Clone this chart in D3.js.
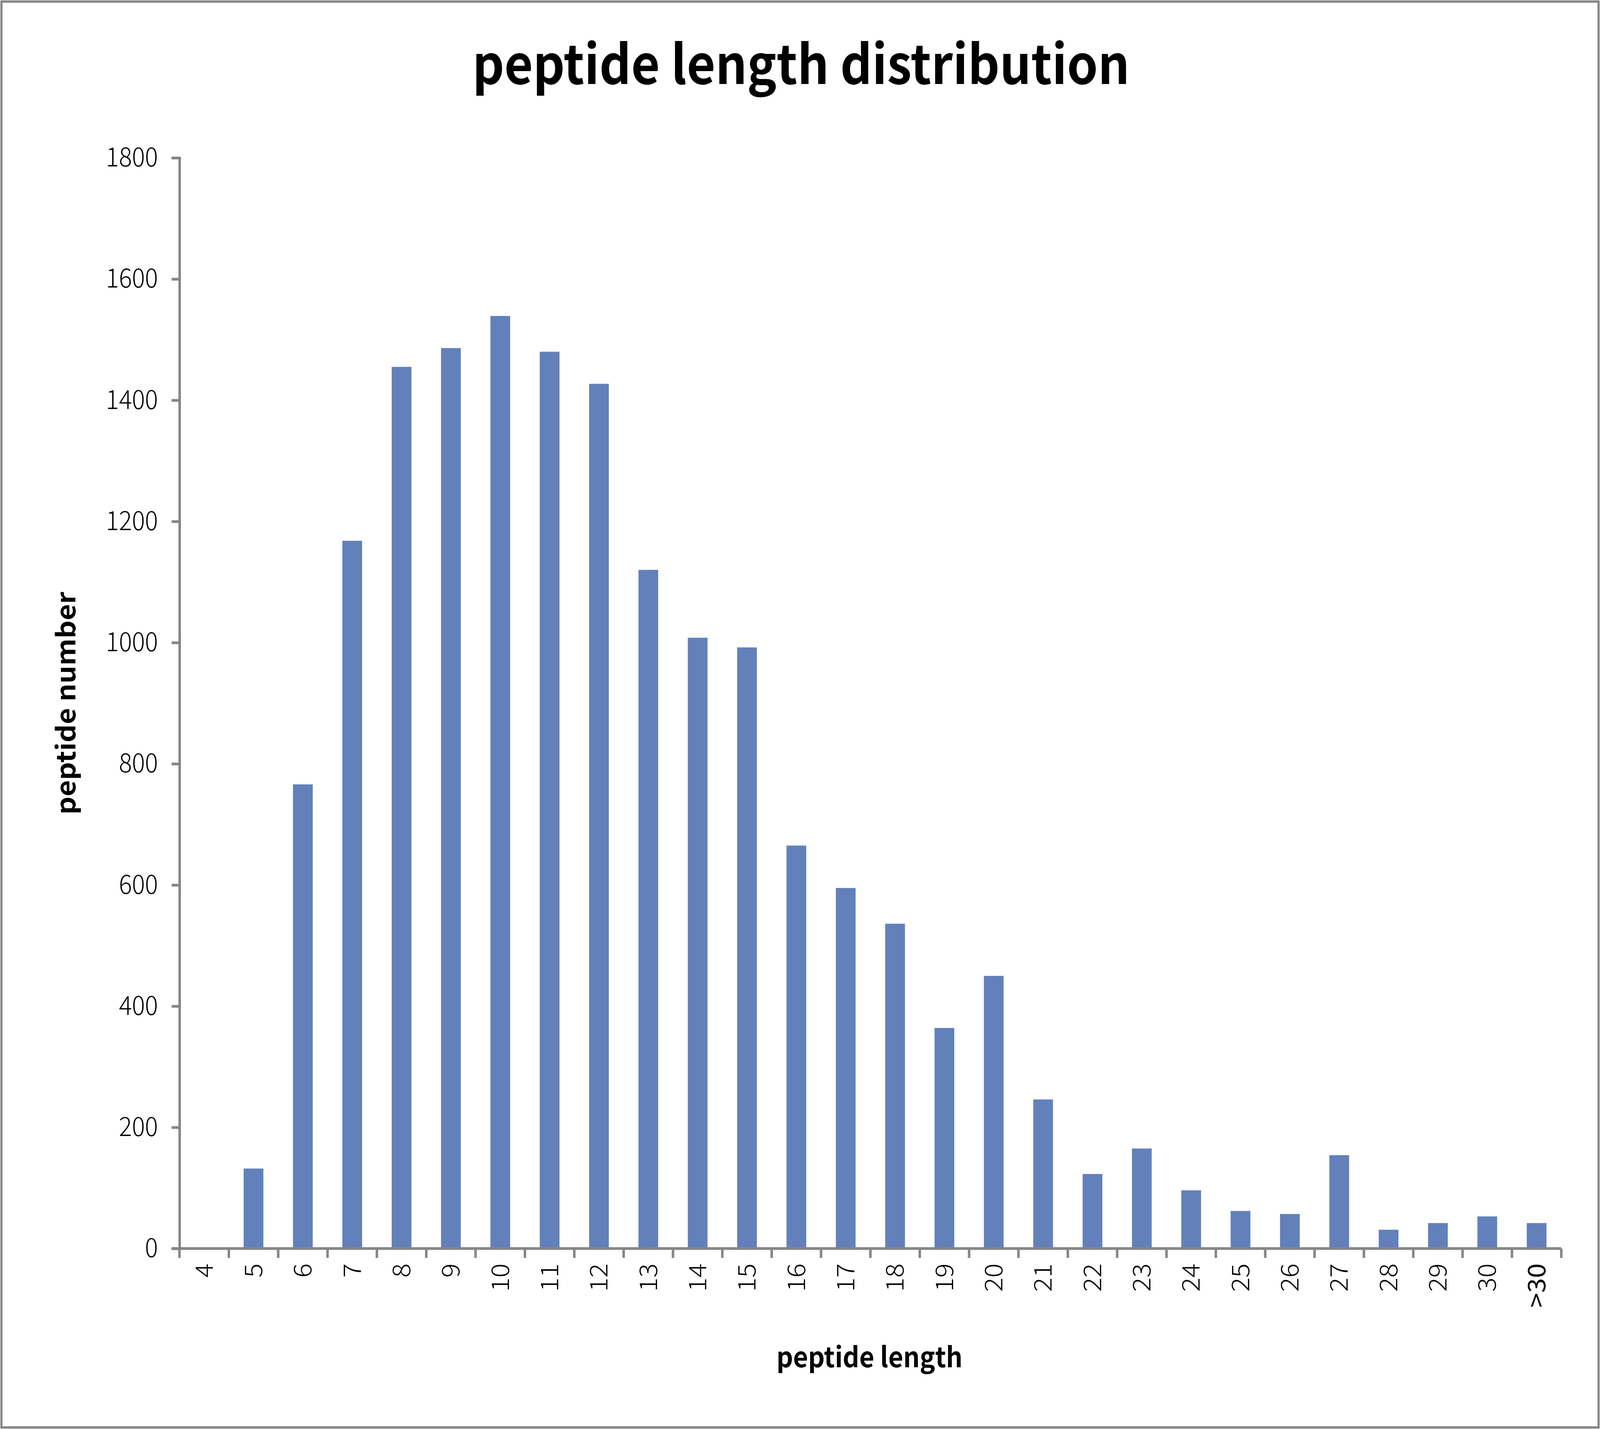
<!DOCTYPE html>
<html><head><meta charset="utf-8">
<script src="https://cdn.jsdelivr.net/npm/d3@7"></script>
<style>html,body{margin:0;padding:0;background:#fff;overflow:hidden}svg{display:block}</style>
</head><body>
<script>
const categories = ["4","5","6","7","8","9","10","11","12","13","14","15","16","17","18","19","20","21","22","23","24","25","26","27","28","29","30",">30"];
const values = [0,132,766,1168,1455,1486,1539,1480,1427,1120,1008,992,665,595,536,364,450,246,123,165,96,62,57,154,31,42,53,42];
const yTicks = [0,200,400,600,800,1000,1200,1400,1600,1800];

const W = 4466, H = 3658;
const L = 501, R = 4358, T = 404, B = 3196;
const svg = d3.select("body").append("svg")
  .attr("viewBox", `0 0 ${W} ${H}`)
  .attr("preserveAspectRatio", "none")
  .style("width", "100vw").style("height", "100vh");
svg.append("rect").attr("x",4).attr("y",4).attr("width",W-8).attr("height",H-8)
  .attr("fill","#fff").attr("stroke","#868686").attr("stroke-width",6);

const xb = d3.scaleBand().domain(categories).range([L, R]);
const y = d3.scaleLinear().domain([0, 1800]).range([B, T]);

svg.append("g").selectAll("rect").data(values).join("rect")
  .attr("x", (d,i) => xb(categories[i]) + xb.bandwidth()*0.3)
  .attr("width", xb.bandwidth()*0.4)
  .attr("y", d => y(d)).attr("height", d => B - y(d))
  .attr("fill", "#6281BA");

const ax = "#868686";
const gy = svg.append("g").attr("transform", `translate(${L},0)`)
  .call(d3.axisLeft(y).tickValues(yTicks).tickFormat(d3.format("d")).tickSize(22).tickPadding(38));
gy.select(".domain").attr("stroke", ax).attr("stroke-width", 7);
gy.selectAll(".tick line").attr("stroke", ax).attr("stroke-width", 7);
gy.selectAll("text").attr("font-family","'Noto Sans CJK SC', 'Noto Sans'").attr("font-weight",300)
  .attr("font-size",68).attr("fill","#000");

svg.append("line").attr("x1",L-22).attr("x2",R).attr("y1",B).attr("y2",B).attr("stroke",ax).attr("stroke-width",7);
const bounds = categories.map(c => xb(c)).concat([R]);
svg.append("g").selectAll("line").data(bounds).join("line")
  .attr("x1", d=>d).attr("x2", d=>d).attr("y1", B).attr("y2", B+24)
  .attr("stroke", ax).attr("stroke-width", 7);
svg.append("g").selectAll("text").data(categories).join("text")
  .attr("transform", d => `translate(${xb(d)+xb.bandwidth()/2+24},${B+38}) rotate(-90)`)
  .attr("text-anchor","end")
  .attr("font-family","'Noto Sans CJK SC', 'Noto Sans'").attr("font-weight",d=>d===">30"?400:300)
  .attr("font-size",68).attr("fill","#000").text(d=>d);

svg.append("text").attr("x",2236).attr("y",215).attr("text-anchor","middle")
  .attr("font-family","'Noto Sans CJK SC', 'Noto Sans'").attr("font-weight",700)
  .attr("font-size",138).text("peptide length distribution");
svg.append("text").attr("x",2427).attr("y",3500).attr("text-anchor","middle")
  .attr("font-family","'Noto Sans CJK SC', 'Noto Sans'").attr("font-weight",700)
  .attr("font-size",72).text("peptide length");
svg.append("text").attr("transform","translate(210,1800) rotate(-90)").attr("text-anchor","middle")
  .attr("font-family","'Noto Sans CJK SC', 'Noto Sans'").attr("font-weight",700)
  .attr("font-size",72).text("peptide number");
</script>
</body></html>
